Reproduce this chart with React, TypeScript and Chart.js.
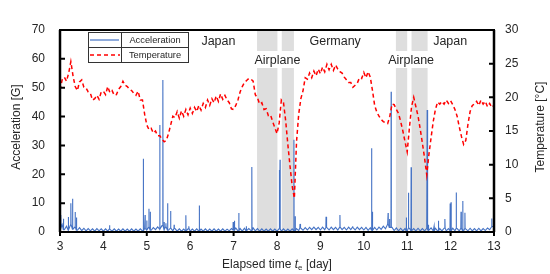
import React, { useEffect, useRef } from "react";
import { Chart, registerables } from "chart.js";

Chart.register(...registerables);

// ---- data ----
const DAY_START = 3;
const DAY_STEP = 0.05;

const temperature: number[] = [
  21.1, 22.6, 23.0, 22.4, 23.6, 25.3, 23.2, 21.6, 21.0, 22.3, 22.6, 21.5, 21.4, 20.8, 20.6, 19.6, 19.8, 20.3, 19.7, 20.8,
  20.9, 20.4, 21.6, 20.7, 21.0, 20.3, 20.4, 21.2, 21.6, 22.4, 21.8, 21.6, 21.2, 21.0, 20.6, 20.3, 20.9, 19.6, 19.6, 17.5,
  15.9, 15.2, 15.4, 14.7, 15.0, 14.3, 14.3, 13.8, 13.4, 13.6, 14.6, 15.9, 17.2, 17.0, 17.9, 16.9, 18.0, 17.2, 18.2, 17.4,
  18.4, 17.6, 18.5, 17.9, 18.8, 18.1, 19.1, 18.5, 19.6, 18.8, 19.8, 19.2, 20.2, 19.4, 20.5, 19.7, 20.3, 19.6, 19.2, 18.3,
  18.2, 18.8, 19.6, 20.8, 21.6, 22.2, 22.5, 22.8, 22.7, 22.4, 20.4, 19.9, 19.0, 19.2, 18.2, 18.3, 17.3, 17.4, 16.4, 15.5,
  14.6, 16.2, 19.6, 19.2, 16.5, 13.0, 9.8, 6.8, 5.0, 13.4, 17.5, 19.8, 21.0, 22.9, 22.7, 23.6, 22.9, 23.9, 23.2, 24.2,
  23.5, 24.5, 23.8, 24.9, 24.1, 24.9, 24.0, 24.8, 24.2, 23.8, 23.6, 23.0, 22.6, 22.2, 22.2, 21.5, 21.8, 22.1, 22.9, 22.8,
  23.7, 22.9, 23.8, 23.0, 21.0, 18.8, 17.8, 17.2, 16.7, 16.4, 16.2, 16.1, 17.2, 19.0, 18.9, 18.2, 17.6, 16.4, 15.0, 13.4,
  11.9, 15.4, 18.6, 20.0, 18.6, 17.2, 15.3, 13.2, 11.0, 8.5, 11.5, 14.0, 16.4, 18.2, 19.3, 19.0, 19.4, 19.0, 19.6, 19.1,
  19.5, 18.9, 18.2, 17.2, 15.6, 14.2, 13.0, 13.6, 16.0, 17.9, 18.8, 19.0, 19.4, 18.8, 19.6, 19.0, 19.4, 18.6, 19.1, 18.5,
  18.8,
];

const accelBaseline: number[] = [
  1.5, 2.6, 0.8, 2.0, 0.7, 2.6, 1.0, 1.8, 0.6, 1.5, 0.5, 1.3, 0.4, 1.2, 0.4, 1.1, 0.3, 1.2, 0.4, 1.1,
  0.3, 1.1, 0.3, 1.0, 0.3, 1.1, 0.3, 1.0, 0.3, 1.1, 0.3, 1.0, 0.3, 1.1, 0.3, 1.0, 0.3, 1.1, 0.4, 1.2,
  0.7, 1.7, 0.6, 1.5, 0.8, 1.8, 1.0, 2.2, 0.9, 1.8, 0.6, 1.4, 0.4, 1.2, 0.3, 1.1, 0.3, 1.0, 0.3, 1.1,
  0.3, 1.0, 0.3, 1.1, 0.3, 1.0, 0.3, 1.1, 0.3, 1.0, 0.3, 1.1, 0.3, 1.0, 0.3, 1.1, 0.3, 1.0, 0.4, 1.2,
  0.7, 1.4, 0.4, 1.2, 0.3, 1.3, 0.4, 1.2, 0.5, 1.4, 0.4, 1.2, 0.3, 1.1, 0.3, 1.0, 0.3, 1.1, 0.3, 1.0,
  0.3, 1.1, 0.3, 1.1, 0.3, 1.0, 0.3, 1.1, 0.4, 1.2, 0.5, 1.4, 0.6, 1.5, 0.7, 1.6, 0.8, 1.7, 0.8, 1.6,
  0.7, 1.7, 0.8, 1.6, 0.7, 1.7, 0.8, 1.6, 0.7, 1.7, 0.8, 1.6, 0.7, 1.7, 0.8, 1.6, 0.7, 1.7, 0.8, 1.6,
  0.7, 1.6, 0.6, 1.5, 0.6, 1.6, 0.7, 1.7, 0.9, 2.0, 1.1, 2.7, 1.6, 1.6, 0.5, 1.4, 0.4, 1.3, 0.4, 1.2,
  0.4, 1.3, 0.4, 1.2, 0.4, 1.3, 0.4, 1.2, 0.4, 1.3, 0.5, 1.4, 0.4, 1.3, 0.4, 1.2, 0.4, 1.3, 0.4, 1.2,
  0.4, 1.3, 0.4, 1.2, 0.4, 1.3, 0.4, 1.2, 0.4, 1.3, 0.4, 1.2, 0.4, 1.3, 0.4, 1.2, 0.5, 1.4, 0.8, 1.8,
  2.0,
];

const spikeDays: number[] = [
  3.02, 3.08, 3.19, 3.25, 3.29, 3.35, 3.38, 4.14, 4.92, 4.96, 5.0, 5.05, 5.08, 5.3, 5.37, 5.4, 5.44, 5.48,
  5.55, 5.63, 5.9, 5.97, 6.21, 6.99, 7.02, 7.12, 7.29, 7.42, 8.05, 8.07, 8.39, 8.42, 8.53, 9.13, 9.45,
  9.74, 10.18, 10.2, 10.56, 10.59, 10.63, 10.98, 11.03, 11.09, 11.46, 11.48, 11.62, 11.72, 11.87, 11.99,
  12.01, 12.13, 12.24, 12.28, 12.33, 12.95,
];
const spikeValues: number[] = [
  5.9, 4.6, 5.2, 10.0, 11.5, 6.9, 5.0, 2.3, 25.4, 5.9, 4.0, 8.1, 7.0, 37.1, 52.7, 3.5, 3.0, 10.0,
  7.3, 2.5, 5.8, 2.0, 9.2, 3.5, 3.9, 6.6, 2.0, 22.5, 21.5, 25.0, 32.0, 5.5, 2.8, 5.3, 5.9,
  2.0, 29.0, 7.0, 6.6, 4.5, 48.6, 5.0, 13.6, 22.4, 42.3, 2.5, 2.0, 3.9, 4.5, 9.9,
  10.3, 13.7, 7.0, 10.7, 6.7, 4.7,
];

const xTicks = [3, 4, 5, 6, 7, 8, 9, 10, 11, 12, 13];
const accTicks = [0, 10, 20, 30, 40, 50, 60, 70];
const tempTicks = [0, 5, 10, 15, 20, 25, 30];

const bandStarts = [7.54, 8.11, 10.74, 11.1];
const bandEnds = [8.01, 8.39, 11.0, 11.47];

const regionNames = ["Japan", "Germany", "Japan"];
const regionCenters = [6.65, 9.34, 11.99];
const airplaneCenters = [8.01, 11.09];

const BLUE = "#4472C4";
const RED = "#FF0000";
const TEXT = "#262626";
const FONT = "'Liberation Sans', Arial, sans-serif";

function buildTemp() {
  return temperature.map((v, i) => ({ x: DAY_START + i * DAY_STEP, y: v }));
}

function baseAt(d: number) {
  const i = Math.round((d - DAY_START) / DAY_STEP);
  return accelBaseline[Math.max(0, Math.min(accelBaseline.length - 1, i))];
}

function buildAccel() {
  const pts: { x: number; y: number }[] = accelBaseline.map((v, i) => ({ x: DAY_START + i * DAY_STEP, y: v }));
  spikeDays.forEach((d, i) => {
    const b = baseAt(d);
    pts.push({ x: d - 0.004, y: b });
    pts.push({ x: d, y: spikeValues[i] });
    pts.push({ x: d + 0.004, y: b });
  });
  pts.sort((a, b) => a.x - b.x);
  return pts;
}

const overlay = {
  id: "overlay",
  beforeDatasetsDraw(chart: any) {
    const { ctx, chartArea, scales } = chart;
    const x = scales.x;
    ctx.save();
    ctx.fillStyle = "#DEDEDE";
    bandStarts.forEach((s, i) => {
      const x0 = x.getPixelForValue(s);
      const x1 = x.getPixelForValue(bandEnds[i]);
      ctx.fillRect(x0, chartArea.top, x1 - x0, chartArea.bottom - chartArea.top);
    });
    ctx.restore();
  },
  afterDatasetsDraw(chart: any) {
    const { ctx, chartArea, scales } = chart;
    const { left, right, top, bottom } = chartArea;
    const x = scales.x;
    const y = scales.y;
    const y2 = scales.y2;
    ctx.save();

    // region labels
    ctx.font = `12.5px ${FONT}`;
    ctx.fillStyle = TEXT;
    ctx.textAlign = "center";
    ctx.textBaseline = "middle";
    regionNames.forEach((n, i) => {
      ctx.fillText(n, x.getPixelForValue(regionCenters[i]), 42);
    });
    airplaneCenters.forEach((c) => {
      const px = x.getPixelForValue(c);
      const w = ctx.measureText("Airplane").width;
      ctx.fillStyle = "#FFFFFF";
      ctx.fillRect(px - w / 2 - 2, 51, w + 4, 17);
      ctx.fillStyle = TEXT;
      ctx.fillText("Airplane", px, 60.5);
    });

    // frame
    ctx.strokeStyle = "#000000";
    ctx.lineWidth = 2;
    ctx.strokeRect(left, top, right - left, bottom - top);
    ctx.lineWidth = 2.5;
    ctx.beginPath();
    ctx.moveTo(left, top);
    ctx.lineTo(left, bottom);
    ctx.moveTo(right, top);
    ctx.lineTo(right, bottom);
    ctx.stroke();

    // ticks
    ctx.lineWidth = 2;
    ctx.beginPath();
    accTicks.forEach((t) => {
      const py = y.getPixelForValue(t);
      ctx.moveTo(left, py);
      ctx.lineTo(left + 5, py);
    });
    tempTicks.forEach((t) => {
      const py = y2.getPixelForValue(t);
      ctx.moveTo(right - 5, py);
      ctx.lineTo(right, py);
    });
    xTicks.forEach((t) => {
      const px = x.getPixelForValue(t);
      ctx.moveTo(px, bottom);
      ctx.lineTo(px, bottom + 4);
    });
    ctx.stroke();

    // tick labels
    ctx.font = `12px ${FONT}`;
    ctx.fillStyle = TEXT;
    ctx.textBaseline = "middle";
    ctx.textAlign = "right";
    accTicks.forEach((t) => ctx.fillText(String(t), left - 15, y.getPixelForValue(t)));
    ctx.textAlign = "left";
    tempTicks.forEach((t) => ctx.fillText(String(t), right + 11, y2.getPixelForValue(t)));
    ctx.textAlign = "center";
    xTicks.forEach((t) => ctx.fillText(String(t), x.getPixelForValue(t), bottom + 15));

    // axis titles
    ctx.save();
    ctx.translate(17, 127);
    ctx.rotate(-Math.PI / 2);
    ctx.fillText("Acceleration [G]", 0, 0);
    ctx.restore();
    ctx.save();
    ctx.translate(541, 127);
    ctx.rotate(-Math.PI / 2);
    ctx.fillText("Temperature [\u00B0C]", 0, 0);
    ctx.restore();

    // bottom title with italic t and subscript e
    const p1 = "Elapsed time ";
    const p2 = "t";
    const p3 = "e";
    const p4 = " [day]";
    ctx.font = `12px ${FONT}`;
    const w1 = ctx.measureText(p1).width;
    const w4 = ctx.measureText(p4).width;
    ctx.font = `italic 12px ${FONT}`;
    const w2 = ctx.measureText(p2).width;
    ctx.font = `8px ${FONT}`;
    const w3 = ctx.measureText(p3).width;
    let cx = 277 - (w1 + w2 + w3 + w4) / 2;
    const by = 265;
    ctx.textAlign = "left";
    ctx.font = `12px ${FONT}`;
    ctx.fillText(p1, cx, by);
    cx += w1;
    ctx.font = `italic 12px ${FONT}`;
    ctx.fillText(p2, cx, by);
    cx += w2;
    ctx.font = `8px ${FONT}`;
    ctx.fillText(p3, cx, by + 3);
    cx += w3;
    ctx.font = `12px ${FONT}`;
    ctx.fillText(p4, cx, by);

    // legend
    const lx0 = 88, lx1 = 188, ly0 = 32, ly1 = 62, lmid = 47, lcol = 121;
    ctx.fillStyle = "#FFFFFF";
    ctx.fillRect(lx0, ly0, lx1 - lx0, ly1 - ly0);
    ctx.strokeStyle = "#333333";
    ctx.lineWidth = 1;
    ctx.strokeRect(lx0 + 0.5, ly0 + 0.5, lx1 - lx0, ly1 - ly0);
    ctx.beginPath();
    ctx.moveTo(lx0, lmid + 0.5);
    ctx.lineTo(lx1, lmid + 0.5);
    ctx.moveTo(lcol + 0.5, ly0);
    ctx.lineTo(lcol + 0.5, ly1);
    ctx.stroke();
    ctx.strokeStyle = BLUE;
    ctx.lineWidth = 1.2;
    ctx.beginPath();
    ctx.moveTo(90, 40);
    ctx.lineTo(119, 40);
    ctx.stroke();
    ctx.strokeStyle = RED;
    ctx.lineWidth = 1.5;
    ctx.setLineDash([4, 3]);
    ctx.beginPath();
    ctx.moveTo(90, 55);
    ctx.lineTo(120, 55);
    ctx.stroke();
    ctx.setLineDash([]);
    ctx.fillStyle = TEXT;
    ctx.font = `9.3px ${FONT}`;
    ctx.textAlign = "center";
    ctx.fillText("Acceleration", 155, 40);
    ctx.fillText("Temperature", 155, 55);

    ctx.restore();
  },
};

export default function App() {
  const ref = useRef<HTMLCanvasElement | null>(null);
  useEffect(() => {
    if (!ref.current) return;
    const chart = new Chart(ref.current, {
      type: "line",
      data: {
        datasets: [
          {
            label: "Temperature",
            data: buildTemp(),
            yAxisID: "y2",
            borderColor: RED,
            borderWidth: 1.5,
            borderDash: [4, 3],
            pointRadius: 0,
            tension: 0,
            fill: false,
          },
          {
            label: "Acceleration",
            data: buildAccel(),
            yAxisID: "y",
            borderColor: BLUE,
            borderWidth: 1.1,
            pointRadius: 0,
            tension: 0,
            fill: false,
          },
        ],
      },
      options: {
        animation: false,
        responsive: false,
        maintainAspectRatio: false,
        parsing: false as any,
        layout: { padding: { left: 60, right: 56, top: 30, bottom: 42 } },
        plugins: { legend: { display: false }, tooltip: { enabled: false }, title: { display: false } },
        scales: {
          x: { type: "linear", min: 3, max: 13, display: false },
          y: { type: "linear", min: 0, max: 70, display: false },
          y2: { type: "linear", min: 0, max: 30, display: false, position: "right" },
        },
      },
      plugins: [overlay],
    });
    return () => chart.destroy();
  }, []);
  return (
    <div style={{ position: "absolute", left: 0, top: 0, width: 550, height: 274, background: "#fff" }}>
      <canvas ref={ref} width={550} height={274} style={{ width: 550, height: 274 }} />
    </div>
  );
}
